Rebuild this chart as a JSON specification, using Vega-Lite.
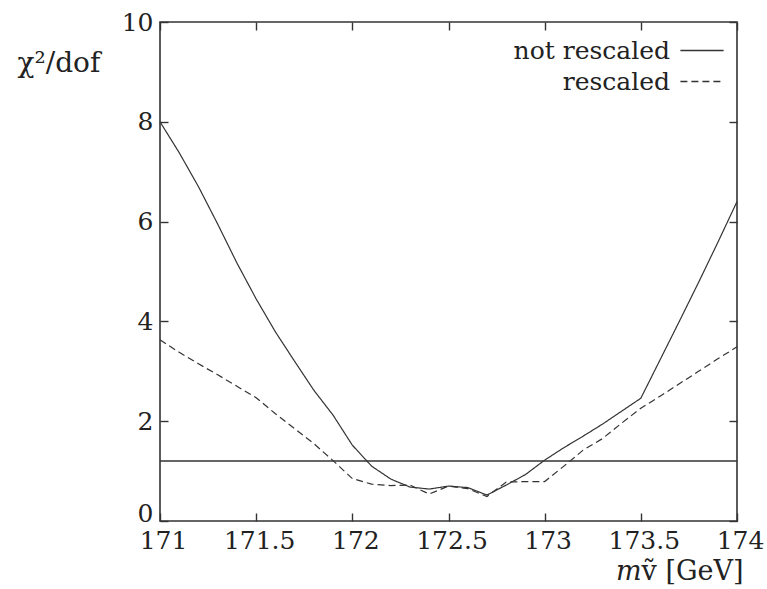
{
  "$schema": "https://vega.github.io/schema/vega-lite/v6.json",
  "width": 577,
  "height": 499,
  "autosize": "none",
  "padding": {"left": 160, "top": 22, "right": 30, "bottom": 68},
  "background": "white",
  "config": {
    "font": "DejaVu Serif",
    "view": {"stroke": "#333", "strokeWidth": 1.6},
    "axis": {"grid": false, "domain": false, "tickColor": "#333", "tickWidth": 1.4, "labelColor": "#222", "titleColor": "#222", "titleFontWeight": "normal", "labelFont": "DejaVu Serif", "titleFont": "DejaVu Serif"},
    "legend": {"labelFont": "DejaVu Serif"}
  },
  "datasets": {
    "curves": [
      {"x": 171.0, "chi2": 8.0, "series": "not rescaled"},
      {"x": 171.1, "chi2": 7.38, "series": "not rescaled"},
      {"x": 171.2, "chi2": 6.7, "series": "not rescaled"},
      {"x": 171.3, "chi2": 5.95, "series": "not rescaled"},
      {"x": 171.4, "chi2": 5.17, "series": "not rescaled"},
      {"x": 171.5, "chi2": 4.45, "series": "not rescaled"},
      {"x": 171.6, "chi2": 3.79, "series": "not rescaled"},
      {"x": 171.7, "chi2": 3.2, "series": "not rescaled"},
      {"x": 171.8, "chi2": 2.62, "series": "not rescaled"},
      {"x": 171.9, "chi2": 2.12, "series": "not rescaled"},
      {"x": 172.0, "chi2": 1.52, "series": "not rescaled"},
      {"x": 172.1, "chi2": 1.1, "series": "not rescaled"},
      {"x": 172.2, "chi2": 0.84, "series": "not rescaled"},
      {"x": 172.3, "chi2": 0.68, "series": "not rescaled"},
      {"x": 172.4, "chi2": 0.64, "series": "not rescaled"},
      {"x": 172.5, "chi2": 0.7, "series": "not rescaled"},
      {"x": 172.6, "chi2": 0.67, "series": "not rescaled"},
      {"x": 172.7, "chi2": 0.52, "series": "not rescaled"},
      {"x": 172.8, "chi2": 0.72, "series": "not rescaled"},
      {"x": 172.9, "chi2": 0.93, "series": "not rescaled"},
      {"x": 173.0, "chi2": 1.22, "series": "not rescaled"},
      {"x": 173.1, "chi2": 1.47, "series": "not rescaled"},
      {"x": 173.2, "chi2": 1.7, "series": "not rescaled"},
      {"x": 173.3, "chi2": 1.94, "series": "not rescaled"},
      {"x": 173.4, "chi2": 2.2, "series": "not rescaled"},
      {"x": 173.5, "chi2": 2.46, "series": "not rescaled"},
      {"x": 173.6, "chi2": 3.23, "series": "not rescaled"},
      {"x": 173.7, "chi2": 4.0, "series": "not rescaled"},
      {"x": 173.8, "chi2": 4.78, "series": "not rescaled"},
      {"x": 173.9, "chi2": 5.58, "series": "not rescaled"},
      {"x": 174.0, "chi2": 6.4, "series": "not rescaled"},
      {"x": 171.0, "chi2": 3.63, "series": "rescaled"},
      {"x": 171.1, "chi2": 3.38, "series": "rescaled"},
      {"x": 171.2, "chi2": 3.15, "series": "rescaled"},
      {"x": 171.3, "chi2": 2.93, "series": "rescaled"},
      {"x": 171.4, "chi2": 2.7, "series": "rescaled"},
      {"x": 171.5, "chi2": 2.47, "series": "rescaled"},
      {"x": 171.6, "chi2": 2.15, "series": "rescaled"},
      {"x": 171.7, "chi2": 1.85, "series": "rescaled"},
      {"x": 171.8, "chi2": 1.55, "series": "rescaled"},
      {"x": 171.9, "chi2": 1.21, "series": "rescaled"},
      {"x": 172.0, "chi2": 0.85, "series": "rescaled"},
      {"x": 172.1, "chi2": 0.74, "series": "rescaled"},
      {"x": 172.2, "chi2": 0.71, "series": "rescaled"},
      {"x": 172.3, "chi2": 0.72, "series": "rescaled"},
      {"x": 172.4, "chi2": 0.54, "series": "rescaled"},
      {"x": 172.5, "chi2": 0.7, "series": "rescaled"},
      {"x": 172.6, "chi2": 0.65, "series": "rescaled"},
      {"x": 172.7, "chi2": 0.49, "series": "rescaled"},
      {"x": 172.8, "chi2": 0.78, "series": "rescaled"},
      {"x": 172.9, "chi2": 0.79, "series": "rescaled"},
      {"x": 173.0, "chi2": 0.79, "series": "rescaled"},
      {"x": 173.1, "chi2": 1.1, "series": "rescaled"},
      {"x": 173.2, "chi2": 1.42, "series": "rescaled"},
      {"x": 173.3, "chi2": 1.65, "series": "rescaled"},
      {"x": 173.4, "chi2": 1.96, "series": "rescaled"},
      {"x": 173.5, "chi2": 2.26, "series": "rescaled"},
      {"x": 173.6, "chi2": 2.5, "series": "rescaled"},
      {"x": 173.7, "chi2": 2.75, "series": "rescaled"},
      {"x": 173.8, "chi2": 3.0, "series": "rescaled"},
      {"x": 173.9, "chi2": 3.25, "series": "rescaled"},
      {"x": 174.0, "chi2": 3.49, "series": "rescaled"}
    ],
    "threshold": [{"level": 1.2}]
  },
  "layer": [
    {
      "data": {"name": "curves"},
      "mark": {"type": "line", "color": "#333", "strokeWidth": 1.2},
      "encoding": {
        "x": {"field": "x", "type": "quantitative",
          "scale": {"domain": [171, 174], "nice": false, "zero": false},
          "axis": {"orient": "bottom", "values": [171, 171.5, 172, 172.5, 173, 173.5, 174], "format": "~f", "tickSize": -8, "labelPadding": 35, "labelFontSize": 25, "labelBaseline": "alphabetic", "labelFlush": false, "labelOffset": 3,
            "title": "𝑚ṽ [GeV]", "titleFontSize": 27, "titleAlign": "right", "titleBaseline": "middle", "titleAnchor": null, "titleX": 583, "titleY": 50}},
        "y": {"field": "chi2", "type": "quantitative",
          "scale": {"domain": [0, 10], "nice": false, "zero": true},
          "axis": {"orient": "left", "values": [0, 2, 4, 6, 8, 10], "format": "d", "tickSize": -8, "labelPadding": 15, "labelFontSize": 25, "labelFlush": false,
            "labelBaseline": {"condition": {"test": "datum.value == 0", "value": "alphabetic"}, "value": "middle"},
            "title": "χ²/dof", "titleFontSize": 28, "titleAngle": 0, "titleAlign": "left", "titleBaseline": "middle", "titleAnchor": null, "titleX": -143, "titleY": 41}},
        "strokeDash": {"field": "series", "type": "nominal",
          "scale": {"domain": ["not rescaled", "rescaled"], "range": [[1, 0], [7, 4]]},
          "legend": {"orient": "none", "legendX": 529.5, "legendY": 16, "title": null, "padding": 0, "offset": 0,
            "symbolType": "M-3.6,0H3.6", "symbolSize": 144, "symbolStrokeWidth": 1.4, "symbolStrokeColor": "#333",
            "labelFontSize": 25, "labelAlign": "right", "labelOffset": -44.5, "labelColor": "#222", "rowPadding": 5}}
      }
    },
    {
      "data": {"name": "threshold"},
      "mark": {"type": "rule", "color": "#333", "strokeWidth": 1.5},
      "encoding": {
        "y": {"field": "level", "type": "quantitative", "axis": null}
      }
    },
    {
      "data": {"name": "curves"},
      "mark": {"type": "point", "opacity": 0},
      "encoding": {
        "x": {"field": "x", "type": "quantitative",
          "axis": {"orient": "top", "values": [171, 171.5, 172, 172.5, 173, 173.5, 174], "tickSize": -8, "labels": false, "title": null}},
        "y": {"field": "chi2", "type": "quantitative",
          "axis": {"orient": "right", "values": [0, 2, 4, 6, 8, 10], "tickSize": -8, "labels": false, "title": null}}
      }
    }
  ]
}
